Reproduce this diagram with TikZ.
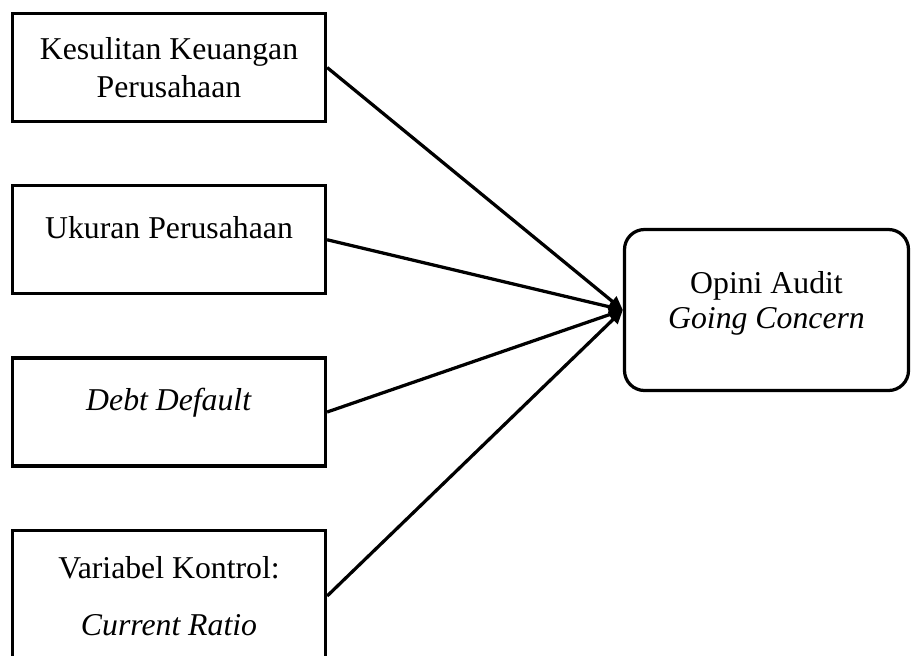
\documentclass[tikz,border=0pt]{standalone}
\usepackage{fontspec}
\setmainfont{Liberation Serif}
\usetikzlibrary{arrows.meta, positioning}

\begin{document}
\begin{tikzpicture}[
        x=0.4pt, y=-0.4pt,
        font=\fontsize{12.7}{15.2}\selectfont,
        node distance=24.4pt,
        var/.style={rectangle, draw=black, line width=1.3pt, fill=white,
                    align=center, minimum width=125.2pt, minimum height=43.2pt},
        raised/.style={text height=8pt, text depth=9pt},
        goal/.style={rectangle, rounded corners=8pt, draw=black, line width=1.3pt,
                     align=center, minimum width=113.6pt, minimum height=64.4pt,
                     text depth=8pt},
        flow/.style={-{Triangle[length=5.5pt, width=5pt]}, line width=1.3pt},
    ]
        \useasboundingbox (0,0) rectangle (912,655);

        % independent variables
        \node[var] (kesulitan) at (169,67.5) {Kesulitan Keuangan\\Perusahaan};
        \node[var, raised, below=of kesulitan] (ukuran) {Ukuran Perusahaan};
        \node[var, raised, below=of ukuran] (debt) {\textit{Debt Default}};
        \node[var, minimum height=52.6pt, below=of debt] (kontrol)
            {Variabel Kontrol:\\[7.5pt] \textit{Current Ratio}};

        % dependent variable
        \node[goal] (opini) at (766.5,310) {Opini Audit\\[-1pt] \textit{Going Concern}};

        \draw[flow] (kesulitan.east) -- (opini.west);
        \draw[flow] (ukuran.east) -- (opini.west);
        \draw[flow] (debt.east) -- (opini.west);
        \draw[flow] (kontrol.east) -- (opini.west);
    \end{tikzpicture}
\end{document}
